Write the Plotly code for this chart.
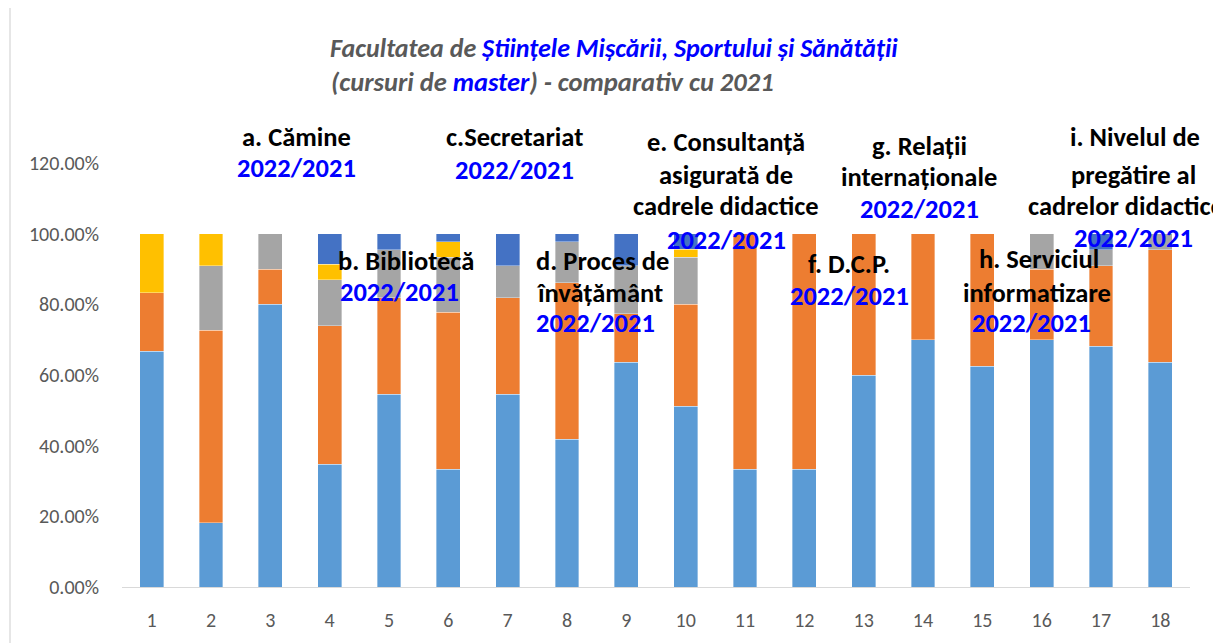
import plotly.graph_objects as go

categories = list(range(1, 19))
tick_labels = [str(c) for c in categories]

# percentage shares (stacked bottom -> top)
s_blue = [66.67, 18.18, 80.00, 34.78, 54.55, 33.33, 54.55, 41.86, 63.64, 51.11,
          33.33, 33.33, 60.00, 70.00, 62.50, 70.00, 68.18, 63.64]
s_orange = [16.67, 54.55, 10.00, 39.13, 27.27, 44.44, 27.27, 44.19, 13.64, 28.89,
            66.67, 66.67, 40.00, 30.00, 37.50, 20.00, 22.73, 31.82]
s_gray = [0, 18.18, 10.00, 13.04, 13.64, 15.56, 9.09, 11.63, 13.64, 13.33,
          0, 0, 0, 0, 0, 10.00, 4.55, 4.55]
s_yellow = [16.67, 9.09, 0, 4.35, 0, 4.44, 0, 0, 0, 2.22,
            0, 0, 0, 0, 0, 0, 0, 0]
s_darkblue = [0, 0, 0, 8.70, 4.55, 2.22, 9.09, 2.33, 9.09, 4.44,
              0, 0, 0, 0, 0, 0, 4.55, 0]

series = [
    ("Seria 1", s_blue, "#5B9BD5"),
    ("Seria 2", s_orange, "#ED7D31"),
    ("Seria 3", s_gray, "#A5A5A5"),
    ("Seria 4", s_yellow, "#FFC000"),
    ("Seria 5", s_darkblue, "#4472C4"),
]

OFF = 8  # page body margin
W, H = 1221, 643
# plot area in page pixels
L, R, T, B = 122, 1190, 163, 587

fig = go.Figure()
for name, vals, col in series:
    fig.add_trace(go.Bar(
        x=categories, y=[v / 100 for v in vals], name=name,
        marker=dict(color=col, line=dict(width=0.6, color="rgba(255,255,255,0.6)")),
    ))

FONT = "Carlito, Lato, sans-serif"
BLUE = "#0000FF"
GREY = "#595959"


def px(x):
    return (x - L) / (R - L)


def py(y):
    return (B - y) / (B - T)


YR = "2022/2021"
# (text, colour, x, y, anchor) in page pixels
label_lines = [
    ("a. Cămine", "black", 296, 137, "center"),
    (YR, BLUE, 296, 168, "center"),
    ("b. Bibliotecă", "black", 406, 261, "center"),
    (YR, BLUE, 399, 292, "center"),
    ("c.Secretariat", "black", 514, 137, "center"),
    (YR, BLUE, 514, 170, "center"),
    ("d. Proces de", "black", 534, 261, "left"),
    ("învățământ", "black", 534, 293, "left"),
    (YR, BLUE, 534, 323, "left"),
    ("e. Consultanță", "black", 726, 142, "center"),
    ("asigurată de", "black", 726, 175, "center"),
    ("cadrele didactice", "black", 726, 206, "center"),
    (YR, BLUE, 726, 240, "center"),
    ("f. D.C.P.", "black", 849, 264, "center"),
    (YR, BLUE, 849, 296, "center"),
    ("g. Relații", "black", 919, 146, "center"),
    ("internaționale", "black", 919, 177, "center"),
    (YR, BLUE, 919, 209, "center"),
    ("h. Serviciul", "black", 1039, 259, "center"),
    ("informatizare", "black", 1037, 293, "center"),
    (YR, BLUE, 1031, 323, "center"),
    ("i. Nivelul de", "black", 1135, 137, "center"),
    ("pregătire al", "black", 1133, 175, "center"),
    ("cadrelor didactice", "black", 1026, 206, "left"),
    (YR, BLUE, 1133, 238, "center"),
]

annotations = []
for text, col, x, y, anc in label_lines:
    annotations.append(dict(
        text=f"<b>{text}</b>", xref="paper", yref="paper",
        x=px(x), y=py(y), xanchor=anc, yanchor="middle", showarrow=False,
        font=dict(family=FONT, size=26.5, color=col),
    ))

annotations.append(dict(
    text="<b><i>Facultatea de <span style='color:%s'>Științele Mișcării, Sportului și Sănătății</span></i></b>" % BLUE,
    xref="paper", yref="paper", x=px(614), y=py(48), xanchor="center", yanchor="middle",
    showarrow=False, font=dict(family=FONT, size=26, color=GREY),
))
annotations.append(dict(
    text="<b><i>(cursuri de <span style='color:%s'>master</span>) - comparativ cu 2021</i></b>" % BLUE,
    xref="paper", yref="paper", x=px(329), y=py(82), xanchor="left", yanchor="middle",
    showarrow=False, font=dict(family=FONT, size=26.5, color=GREY),
))

fig.update_layout(
    width=W, height=H,
    margin=dict(l=L - OFF, r=W - R + OFF, t=T - OFF, b=H - B + OFF, pad=0),
    barmode="stack", bargap=0.6,
    plot_bgcolor="white", paper_bgcolor="white",
    showlegend=False,
    annotations=annotations,
    shapes=[dict(type="rect", xref="paper", yref="paper",
                 x0=px(10), x1=px(1240), y0=py(660), y1=py(1),
                 line=dict(color="#D9D9D9", width=1.3), layer="below")],
    font=dict(family=FONT, color=GREY),
)
fig.update_xaxes(
    range=[0.5, 18.5], tickmode="array", tickvals=categories, ticktext=tick_labels,
    showgrid=False, zeroline=False, showline=True, linecolor="#D9D9D9", linewidth=1.3,
    ticks="", tickfont=dict(family=FONT, size=20, color=GREY), ticklabelstandoff=15,
)
fig.update_yaxes(
    range=[0, 1.2], tickvals=[0, 0.2, 0.4, 0.6, 0.8, 1.0, 1.2], tickformat=".2%",
    showgrid=False, zeroline=False, showline=False, ticks="",
    tickfont=dict(family=FONT, size=20, color=GREY), ticklabelstandoff=22,
)

fig.write_html("out.html")
